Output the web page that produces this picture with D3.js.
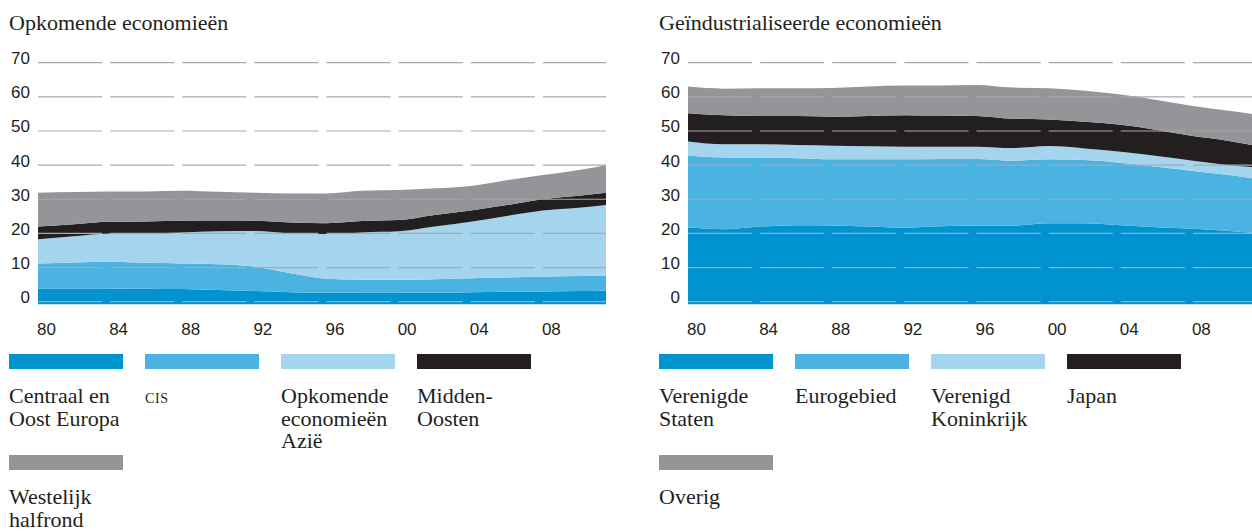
<!DOCTYPE html>
<html>
<head>
<meta charset="utf-8">
<script src="https://cdn.jsdelivr.net/npm/d3@7/dist/d3.min.js"></script>
<style>
  body { margin: 0; background: #fff; }
  .title, .legend-text { font-family: "Liberation Serif", serif; fill: #231f20; }
  .tick-label { font-family: "Liberation Sans", Arial, sans-serif; fill: #231f20; font-size: 17px; }
</style>
</head>
<body>
<svg id="chart" width="1252" height="531"></svg>
<script>
// years (last point is the right edge of the plot)
var years = [1980, 1982, 1984, 1986, 1988, 1990, 1992, 1994, 1996, 1998,
             2000, 2002, 2004, 2006, 2008, 2010, 2011.5];

// Opkomende economieen
var ceeValues  = [3.9, 3.9, 3.9, 3.8, 3.7, 3.4, 3.1, 2.8, 2.6, 2.7, 2.7, 2.6, 2.8, 2.9, 3.0, 3.1, 3.2];
var cisValues  = [7.3, 7.6, 7.8, 7.6, 7.5, 7.6, 7.2, 5.5, 4.1, 3.7, 3.7, 4.0, 4.1, 4.2, 4.3, 4.4, 4.5];
var asiaValues = [7.1, 7.7, 8.3, 8.7, 9.1, 9.6, 10.4, 11.7, 13.1, 13.9, 14.2, 15.4, 16.5, 18.0, 19.4, 20.0, 20.6];
var meValues   = [3.7, 3.5, 3.4, 3.4, 3.4, 3.2, 3.0, 3.2, 3.2, 3.3, 3.3, 3.4, 3.3, 3.2, 3.3, 3.5, 3.6];
var whValues   = [9.9, 9.4, 8.9, 8.8, 8.8, 8.4, 8.2, 8.5, 8.7, 8.9, 8.8, 7.8, 7.2, 7.3, 7.1, 7.6, 8.1];

// Geindustrialiseerde economieen
var usValues    = [21.8, 21.2, 22.0, 22.4, 22.3, 22.0, 21.7, 22.1, 22.3, 22.3, 23.0, 23.0, 22.4, 21.8, 21.4, 20.7, 20.1];
var euroValues  = [21.0, 21.0, 20.2, 19.6, 19.4, 19.7, 20.0, 19.7, 19.5, 19.0, 18.7, 18.5, 18.3, 17.7, 16.9, 16.4, 15.9];
var ukValues    = [4.1, 3.9, 3.9, 3.9, 4.0, 3.8, 3.7, 3.6, 3.6, 3.7, 3.9, 3.4, 3.2, 3.2, 3.0, 2.9, 3.4];
var japanValues = [8.3, 8.5, 8.3, 8.5, 8.5, 8.9, 9.2, 9.1, 9.0, 8.6, 7.8, 7.8, 7.9, 7.6, 7.2, 7.1, 6.3];
var otherValues = [7.8, 7.8, 8.1, 8.1, 8.4, 8.6, 8.7, 8.8, 9.1, 9.1, 9.1, 9.1, 8.9, 8.8, 8.8, 8.8, 9.1];

var yTicks = [0, 10, 20, 30, 40, 50, 60, 70];
var xTicks = [1980, 1984, 1988, 1992, 1996, 2000, 2004, 2008];
var xTickLabels = ["80", "84", "88", "92", "96", "00", "04", "08"];

var colors = ["#0093d0", "#4ab3e2", "#a5d5ee", "#231f20", "#939598"];

var emergingNames = [["Centraal en", "Oost Europa"], ["CIS"], ["Opkomende", "economieën", "Azië"],
                     ["Midden-", "Oosten"], ["Westelijk", "halfrond"]];
var industrialNames = [["Verenigde", "Staten"], ["Eurogebied"], ["Verenigd", "Koninkrijk"],
                       ["Japan"], ["Overig"]];

var svg = d3.select("#chart");

/*
// Turns the separate value arrays into rows that d3.stack understands
*/
function BuildRows(series)
{
  return years.map(function(yr, i) {
    var row = {year: yr};
    series.forEach(function(s, k) { row["s" + k] = s[i]; });
    return row;
  });
}

/*
// Draws one panel: title, stacked areas, segmented grid, axes and legend
*/
function DrawPanel(left, title, series, names)
{
  var plotLeft = left + 29;
  var xScale = d3.scaleLinear().domain([1980, 2011.5]).range([plotLeft, plotLeft + 568]);
  var yScale = d3.scaleLinear().domain([0, 70]).range([301.7, 62.7]);
  var baseY = yScale(0) + 2.5;

  var g = svg.append("g");

  g.append("text")
   .attr("class", "title")
   .attr("x", left)
   .attr("y", 30)
   .style("font-size", "22px")
   .text(title);

  var keys = series.map(function(d, k) { return "s" + k; });
  var stacked = d3.stack().keys(keys)(BuildRows(series));

  var area = d3.area()
               .curve(d3.curveMonotoneX)
               .x(function(d) { return xScale(d.data.year); })
               .y0(function(d) { return d[0] === 0 ? baseY : yScale(d[0]); })
               .y1(function(d) { return yScale(d[1]); });

  g.selectAll(".layer")
   .data(stacked)
   .enter().append("path")
   .attr("class", "layer")
   .attr("fill", function(d, i) { return colors[i]; })
   .attr("d", area);

  // grid lines are broken into 4-year pieces with a gap before every tick
  var plotRight = xScale.range()[1];
  yTicks.forEach(function(v) {
    xTicks.forEach(function(t, j) {
      var end = j < xTicks.length - 1 ? xScale(xTicks[j + 1]) - 8 : plotRight;
      g.append("line")
       .attr("x1", xScale(t)).attr("x2", end)
       .attr("y1", yScale(v)).attr("y2", yScale(v))
       .attr("stroke", "#a7a9ac")
       .attr("stroke-width", 1.2);
    });
  });

  g.selectAll(".ylab")
   .data(yTicks)
   .enter().append("text")
   .attr("class", "tick-label")
   .attr("x", plotLeft - 8)
   .attr("y", function(d) { return yScale(d) + 1.5; })
   .attr("text-anchor", "end")
   .text(function(d) { return d; });

  g.selectAll(".xlab")
   .data(xTicks)
   .enter().append("text")
   .attr("class", "tick-label")
   .attr("x", function(d) { return xScale(d) - 1; })
   .attr("y", 335)
   .text(function(d, i) { return xTickLabels[i]; });

  // legend: four per row, fifth item on a second row
  names.forEach(function(lines, i) {
    var lx = left + (i % 4) * 136;
    var ly = 354 + Math.floor(i / 4) * 101;
    g.append("rect")
     .attr("x", lx).attr("y", ly)
     .attr("width", 114).attr("height", 15)
     .attr("fill", colors[i]);
    lines.forEach(function(line, k) {
      var t = g.append("text")
               .attr("class", "legend-text")
               .attr("x", lx)
               .attr("y", ly + 49 + k * 22.5)
               .style("font-size", "22px")
               .text(line);
      if(line === "CIS")
      {
        t.style("font-size", "14px").style("letter-spacing", "0.6px");
      }
    });
  });
}

DrawPanel(9, "Opkomende economieën", [ceeValues, cisValues, asiaValues, meValues, whValues], emergingNames);
DrawPanel(659, "Geïndustrialiseerde economieën", [usValues, euroValues, ukValues, japanValues, otherValues], industrialNames);
</script>
</body>
</html>
